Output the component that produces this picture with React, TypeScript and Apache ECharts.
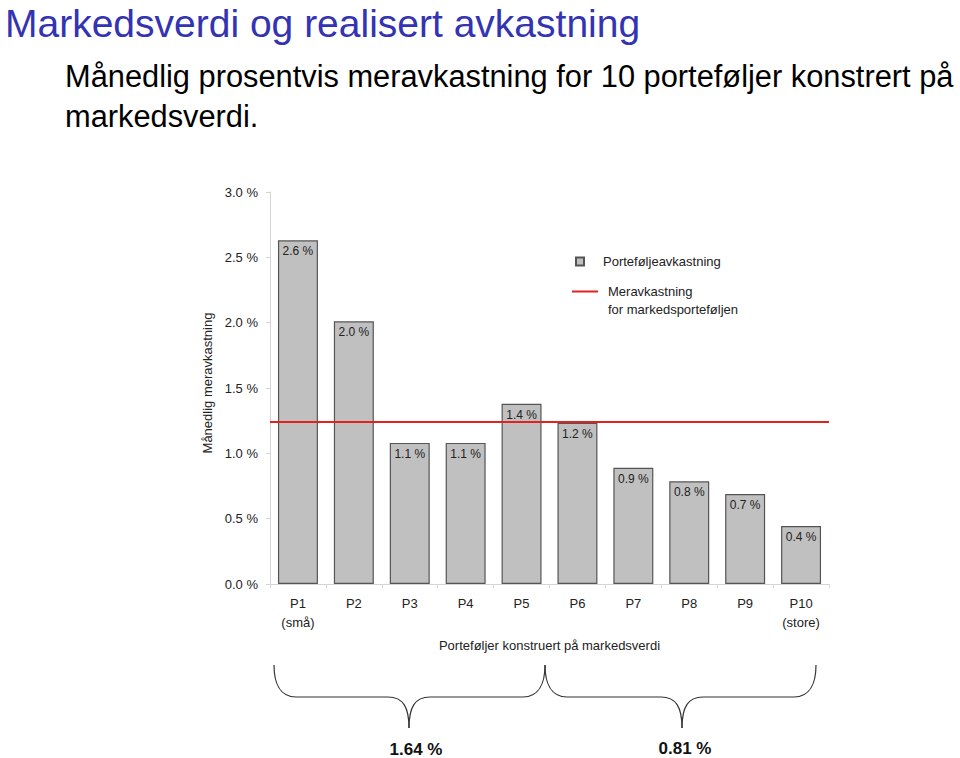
import React, { useEffect, useRef } from "react";
import * as echarts from "echarts";

const titleText = "Markedsverdi og realisert avkastning";
const subtitleText = "Månedlig prosentvis meravkastning for 10 porteføljer konstrert på\nmarkedsverdi.";
const categories = ["P1", "P2", "P3", "P4", "P5", "P6", "P7", "P8", "P9", "P10"];
const subLabels = ["(små)", "", "", "", "", "", "", "", "", "(store)"];
const portfolioReturns = [2.63, 2.01, 1.08, 1.08, 1.38, 1.234, 0.89, 0.786, 0.689, 0.444];
const marketExcess = 1.235;
const groupMeans = [1.64, 0.81];
const barName = "Porteføljeavkastning";
const lineName = "Meravkastning\nfor markedsporteføljen";
const yAxisName = "Månedlig meravkastning";
const xAxisName = "Porteføljer konstruert på markedsverdi";

const FONT = "Liberation Sans, Arial, Helvetica, sans-serif";
const RED = "#e0231e";

function braceElements(x0: number, x1: number, xm: number, yTop: number, yMid: number, yTip: number) {
  const st = { stroke: "#333", lineWidth: 1.2, fill: "none" };
  const e = 22;
  const t = 21;
  return [
    { type: "bezierCurve", shape: { x1: x0, y1: yTop, cpx1: x0, cpy1: yMid - 14, cpx2: x0 + 6, cpy2: yMid, x2: x0 + e, y2: yMid }, style: st, silent: true },
    { type: "line", shape: { x1: x0 + e, y1: yMid, x2: xm - t, y2: yMid }, style: st, silent: true },
    { type: "bezierCurve", shape: { x1: xm - t, y1: yMid, cpx1: xm - 6, cpy1: yMid, cpx2: xm, cpy2: yMid + 10, x2: xm, y2: yTip }, style: st, silent: true },
    { type: "bezierCurve", shape: { x1: xm, y1: yTip, cpx1: xm, cpy1: yMid + 10, cpx2: xm + 6, cpy2: yMid, x2: xm + t, y2: yMid }, style: st, silent: true },
    { type: "line", shape: { x1: xm + t, y1: yMid, x2: x1 - e, y2: yMid }, style: st, silent: true },
    { type: "bezierCurve", shape: { x1: x1 - e, y1: yMid, cpx1: x1 - 6, cpy1: yMid, cpx2: x1, cpy2: yMid - 14, x2: x1, y2: yTop }, style: st, silent: true },
  ];
}

export default function App() {
  const ref = useRef<HTMLDivElement>(null);
  useEffect(() => {
    if (!ref.current) return;
    const chart = echarts.init(ref.current, null, { renderer: "svg" });
    const option: any = {
      animation: false,
      backgroundColor: "#ffffff",
      title: [
        {
          text: titleText,
          left: 5,
          top: 0,
          padding: 0,
          textStyle: { fontSize: 39, lineHeight: 46, color: "#3333B3", fontWeight: "normal", fontFamily: FONT },
        },
        {
          text: subtitleText,
          left: 65,
          top: 56,
          padding: 0,
          textStyle: { fontSize: 30.8, lineHeight: 40, color: "#000", fontWeight: "normal", fontFamily: FONT },
        },
      ],
      legend: [
        {
          data: [{ name: barName, icon: "rect" }],
          left: 575,
          top: 255,
          padding: 0,
          itemWidth: 8,
          itemHeight: 8,
          selectedMode: false,
          textStyle: { fontSize: 13, color: "#222", fontFamily: FONT, padding: [0, 0, 0, 14] },
        },
        {
          data: [{ name: lineName, icon: "path://M0,0H26V2H0Z M0,19H0.01V19.01H0Z" }],
          left: 572,
          top: 282,
          padding: 0,
          itemWidth: 26,
          itemHeight: 19,
          symbolKeepAspect: false,
          selectedMode: false,
          itemStyle: { color: RED, borderWidth: 0 },
          lineStyle: { width: 0 },
          textStyle: { fontSize: 13, lineHeight: 18, color: "#222", fontFamily: FONT, padding: [0, 0, 0, 5] },
        },
      ],
      grid: { left: 270, right: 131, top: 192, bottom: 174, containLabel: false },
      xAxis: {
        type: "category",
        data: categories,
        name: xAxisName,
        nameLocation: "middle",
        nameGap: 55,
        nameTextStyle: { fontSize: 13, color: "#222", fontFamily: FONT },
        axisLine: { show: true, lineStyle: { color: "#d4d4d4", width: 1 } },
        axisTick: { show: true, length: 4, lineStyle: { color: "#d8d8d8" } },
        axisLabel: {
          fontSize: 13,
          lineHeight: 19,
          color: "#222",
          fontFamily: FONT,
          margin: 10,
          interval: 0,
          formatter: (v: string) => {
            const i = categories.indexOf(v);
            return subLabels[i] ? v + "\n" + subLabels[i] : v;
          },
        },
      },
      yAxis: {
        type: "value",
        min: 0,
        max: 3,
        interval: 0.5,
        name: yAxisName,
        nameLocation: "middle",
        nameGap: 53,
        nameRotate: 90,
        nameTextStyle: { fontSize: 13, color: "#222", fontFamily: FONT, padding: [0, 0, 0, 10] },
        axisLine: { show: true, lineStyle: { color: "#d4d4d4", width: 1 } },
        axisTick: { show: true, length: 4, lineStyle: { color: "#d4d4d4" } },
        splitLine: { show: false },
        axisLabel: {
          fontSize: 13,
          color: "#222",
          fontFamily: FONT,
          margin: 12,
          formatter: (v: number) => v.toFixed(1) + " %",
        },
      },
      series: [
        {
          name: barName,
          type: "bar",
          data: portfolioReturns,
          barCategoryGap: "28.5%",
          itemStyle: { color: "#c0c0c0", borderColor: "#555", borderWidth: 1.2 },
          label: {
            show: true,
            position: "insideTop",
            distance: 5,
            fontSize: 12,
            color: "#222",
            fontFamily: FONT,
            formatter: (p: any) => Number(p.value).toFixed(1) + " %",
          },
          emphasis: { disabled: true },
          silent: true,
        },
        {
          name: lineName,
          type: "line",
          data: [],
          symbol: "none",
          showSymbol: false,
          lineStyle: { color: RED, width: 2 },
          itemStyle: { color: RED },
          markLine: {
            silent: true,
            symbol: ["none", "none"],
            label: { show: false },
            lineStyle: { color: RED, width: 2, type: "solid" },
            emphasis: { disabled: true },
            data: [{ yAxis: marketExcess }],
          },
        },
      ],
      graphic: [
        ...braceElements(274, 545, 409, 665, 697, 728),
        ...braceElements(545, 816, 682, 665, 697, 728),
        {
          type: "text",
          x: 416,
          y: 749,
          style: { text: groupMeans[0].toFixed(2) + " %", fill: "#111", font: "bold 17px " + FONT, textAlign: "center", textVerticalAlign: "middle" },
          silent: true,
        },
        {
          type: "text",
          x: 685,
          y: 748,
          style: { text: groupMeans[1].toFixed(2) + " %", fill: "#111", font: "bold 17px " + FONT, textAlign: "center", textVerticalAlign: "middle" },
          silent: true,
        },
      ],
    };
    chart.setOption(option);
    return () => chart.dispose();
  }, []);
  return <div ref={ref} style={{ position: "absolute", left: 0, top: 0, width: 960, height: 758 }} />;
}
